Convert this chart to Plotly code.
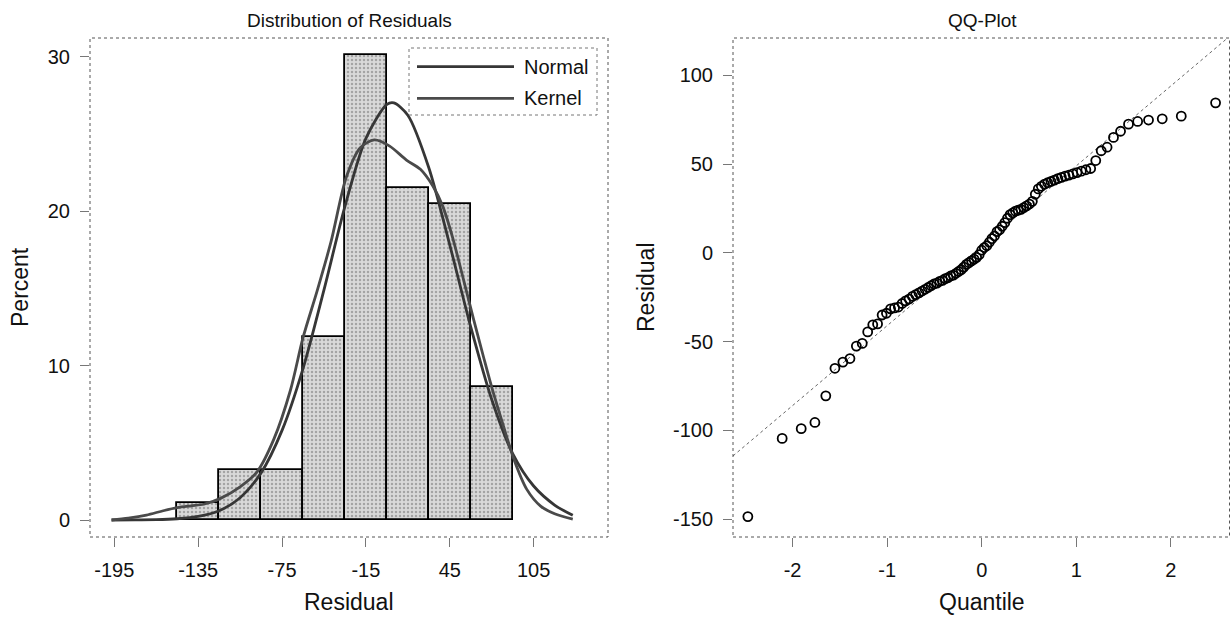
from statistics import NormalDist

import plotly.graph_objects as go

# ---------------------------------------------------------------- data
# Sorted model residuals (n = 93)
residuals = [
    -148.5, -104.5, -99, -95.5, -80.5, -65, -61.5, -59.5, -52.5, -51,
    -44.5, -40.5, -40, -35, -34, -31.5, -31, -30.5,
    -28.5, -27, -26, -24.5, -23.5, -22.5, -21.5, -20.5, -19.5, -18.5,
    -17.5, -17, -16, -15.5, -14.5, -14, -13, -12.5, -11.5, -10.5,
    -9.5, -8, -6.5, -5.5, -4.5, -3.5, -2.5, -1,
    1.5, 3, 4, 6, 8, 9.5, 12, 13, 15, 17,
    19.5, 21.5, 22.5, 23.5, 24, 24.5, 25.5, 26.5, 27.5, 29,
    33, 36, 37.5, 38.7, 39.5, 40.2, 41, 41.8, 42.5, 43.2,
    43.8, 44.5, 45.2, 46, 46.8, 47.5, 52, 57.5, 59.5,
    65, 68.5, 72.5, 74, 74.8, 75.5, 77, 84.5,
]

# Fitted density curves (percent scale, bin width 30)
normal_x = [-197, -180, -165, -150, -135, -120, -105, -90, -75, -60, -45, -30,
            -15, 0, 5, 15, 30, 45, 60, 75, 90, 105, 120, 133]
normal_y = [0.0, 0.01, 0.02, 0.08, 0.23, 0.6, 1.44, 3.05, 5.8, 9.8, 14.9, 20.3,
            24.7, 26.9, 27.0, 26.2, 22.8, 17.8, 12.5, 7.8, 4.3, 2.2, 0.97, 0.3]

kernel_x = [-197, -185, -172, -160, -150, -140, -131, -119, -105, -93, -81, -69,
            -60, -50, -40, -29, -19, -9, 2, 14, 24, 33, 40, 47, 55, 62, 69, 75,
            83, 91, 100, 110, 120, 133]
kernel_y = [0.0, 0.12, 0.32, 0.6, 0.8, 0.92, 1.02, 1.4, 2.15, 3.1, 5.2, 8.4,
            11.8, 14.8, 18.0, 22.2, 24.1, 24.6, 24.2, 23.3, 22.7, 21.6, 20.3, 18.3,
            15.5, 13.0, 10.6, 8.6, 6.2, 3.9, 2.0, 0.9, 0.4, 0.05]

# Reference line of the QQ plot: intercept + slope * quantile
qq_line_mu = 4.0
qq_line_sigma = 45.0

# Tick labels
hist_tickvals = [-195, -135, -75, -15, 45, 105]
hist_ticktext = ["-195", "-135", "-75", "-15", "45", "105"]
pct_tickvals = [0, 10, 20, 30]
pct_ticktext = ["0", "10", "20", "30"]
q_tickvals = [-2, -1, 0, 1, 2]
q_ticktext = ["-2", "-1", "0", "1", "2"]
res_tickvals = [-150, -100, -50, 0, 50, 100]
res_ticktext = ["-150", "-100", "-50", "0", "50", "100"]

# Blom plotting positions for the normal quantiles
n = len(residuals)
nd = NormalDist()
quantiles = [nd.inv_cdf((i + 1 - 0.375) / (n + 0.25)) for i in range(n)]

# ---------------------------------------------------------------- layout helpers
W, H = 1231, 617
FONT = "Liberation Sans, Arial, sans-serif"
INK = "#363636"
INK2 = "#4a4a4a"
TXT = "#111111"


def fx(px):
    return px / W


def fy(px):
    return 1 - px / H


q_range = [-2.63, 2.62]

fig = go.Figure()

# Histogram of residuals (percent)
fig.add_trace(go.Histogram(
    x=residuals,
    xbins=dict(start=-150, end=90, size=30),
    histnorm="percent",
    marker=dict(
        color="#d9d9d9",
        pattern=dict(shape=".", fgcolor="#6e6e6e", size=4, solidity=0.3),
        line=dict(color="black", width=1.8),
    ),
    xaxis="x", yaxis="y", showlegend=False,
))

fig.add_trace(go.Scatter(
    x=normal_x, y=normal_y, mode="lines",
    line=dict(color=INK, width=2.8, shape="spline", smoothing=0.8),
    xaxis="x", yaxis="y", showlegend=False,
))
fig.add_trace(go.Scatter(
    x=kernel_x, y=kernel_y, mode="lines",
    line=dict(color=INK2, width=2.8, shape="spline", smoothing=0.8),
    xaxis="x", yaxis="y", showlegend=False,
))

# QQ plot
fig.add_trace(go.Scatter(
    x=q_range,
    y=[qq_line_mu + qq_line_sigma * q for q in q_range],
    mode="lines", line=dict(color="#666666", width=1, dash="dot"),
    xaxis="x2", yaxis="y2", showlegend=False,
))
fig.add_trace(go.Scatter(
    x=quantiles, y=residuals, mode="markers",
    marker=dict(symbol="circle-open", size=9, color="black", line=dict(width=1.8)),
    xaxis="x2", yaxis="y2", showlegend=False,
))

axis_common = dict(
    showgrid=False, zeroline=False, showline=False,
    ticks="outside", ticklen=9, tickwidth=1, tickcolor="#777777",
    tickfont=dict(family=FONT, size=20, color=TXT),
    ticklabelstandoff=6,
)

fig.update_layout(
    width=W, height=H,
    margin=dict(l=0, r=0, t=0, b=0),
    paper_bgcolor="white", plot_bgcolor="white",
    xaxis=dict(domain=[fx(90), fx(608)], range=[-212.4, 158.2], anchor="y",
               tickmode="array", tickvals=hist_tickvals, ticktext=hist_ticktext,
               **axis_common),
    yaxis=dict(domain=[fy(537), fy(38)], range=[-1.1, 31.2], anchor="x",
               tickmode="array", tickvals=pct_tickvals, ticktext=pct_ticktext,
               **axis_common),
    xaxis2=dict(domain=[fx(733), fx(1229.5)], range=q_range, anchor="y2",
                tickmode="array", tickvals=q_tickvals, ticktext=q_ticktext,
                **axis_common),
    yaxis2=dict(domain=[fy(537), fy(38)], range=[-160, 121], anchor="x2",
                tickmode="array", tickvals=res_tickvals, ticktext=res_ticktext,
                **axis_common),
)

# Dotted frames around both panels
for xr, yr in (("x", "y"), ("x2", "y2")):
    fig.add_shape(type="rect", xref=f"{xr} domain", yref=f"{yr} domain",
                  x0=0, x1=1, y0=0, y1=1,
                  line=dict(color="#555555", width=1, dash="dot"), layer="above")

# Legend box for the density curves
fig.add_shape(type="rect", xref="paper", yref="paper",
              x0=fx(409), x1=fx(597), y0=fy(115), y1=fy(48),
              line=dict(color="#777777", width=1, dash="dot"),
              fillcolor="white", layer="above")
for ypx, label, col in ((66.7, "Normal", INK), (98.3, "Kernel", INK2)):
    fig.add_shape(type="line", xref="paper", yref="paper",
                  x0=fx(417), x1=fx(514), y0=fy(ypx), y1=fy(ypx),
                  line=dict(color=col, width=2.8), layer="above")
    fig.add_annotation(x=fx(522), y=fy(ypx), xref="paper", yref="paper",
                       text=label, showarrow=False, xanchor="left", yanchor="middle",
                       font=dict(family=FONT, size=20, color=TXT))

# Titles and axis titles
texts = [
    (349, 20, "Distribution of Residuals", 0, 19),
    (982, 20, "QQ-Plot", 0, 19),
    (349, 602, "Residual", 0, 23),
    (982, 602, "Quantile", 0, 23),
    (20, 287, "Percent", -90, 23),
    (646, 287, "Residual", -90, 23),
]
for xpx, ypx, txt, ang, size in texts:
    fig.add_annotation(x=fx(xpx), y=fy(ypx), xref="paper", yref="paper",
                       text=txt, showarrow=False, textangle=ang,
                       xanchor="center", yanchor="middle",
                       font=dict(family=FONT, size=size, color=TXT))

fig.write_html("out.html")
